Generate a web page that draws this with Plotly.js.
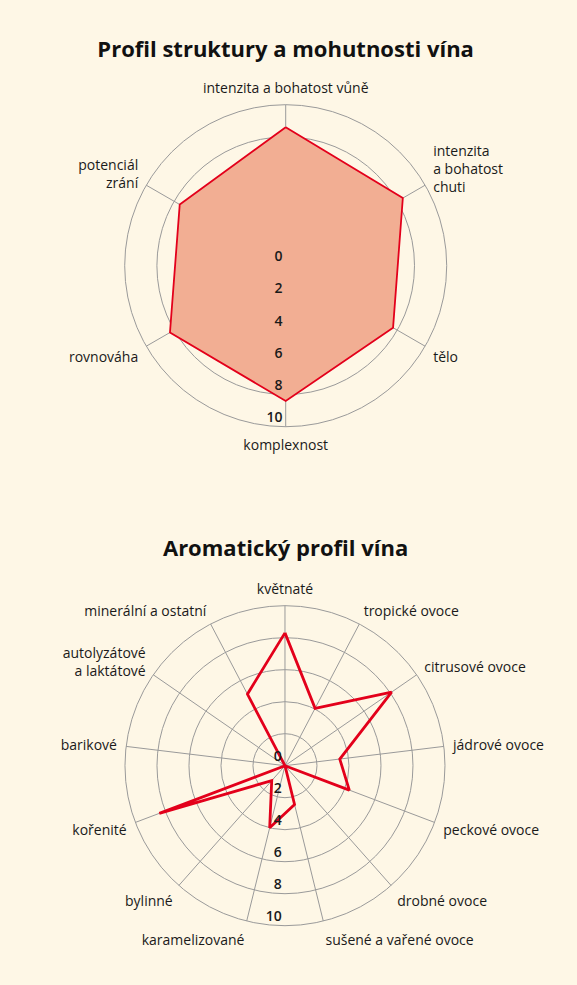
<!DOCTYPE html>
<html>
<head>
<meta charset="utf-8">
<script src="https://cdn.plot.ly/plotly-3.0.1.min.js"></script>
<style>
  body { margin: 0; background: #fef7e6; }
  .chart { width: 577px; }
</style>
</head>
<body>
<div id="graph1" class="chart" style="height:492px"></div>
<div id="graph2" class="chart" style="height:493px"></div>
<script>
// structure profile
var structLabels = ['intenzita a bohatost vůně', 'intenzita<br>a bohatost<br>chuti', 'tělo',
  'komplexnost', 'rovnováha', 'potenciál<br>zrání']
var structValues = [8.6, 8.4, 7.7, 8.4, 8.3, 7.6]

// aroma profile
var aromaLabels = ['květnaté', 'tropické ovoce', 'citrusové ovoce', 'jádrové ovoce', 'peckové ovoce',
  'drobné ovoce', 'sušené a vařené ovoce', 'karamelizované', 'bylinné', 'kořenité', 'barikové',
  'autolyzátové<br>a laktátové', 'minerální a ostatní']
var aromaValues = [8.3, 4.05, 8.1, 3.45, 4.3, 0, 2.5, 4.0, 1.25, 8.4, 0, 0, 5.05]

var radialTicks = [0, 2, 4, 6, 8, 10]
// blank second line lifts each number a little above its ring
var radialText = radialTicks.map(function (v) { return v + '<br>\u00a0' })

var bg = '#fef7e6'
var gridCol = '#9a9a9a'
var red = '#e3001b'
var font = 'Open Sans, sans-serif'

function closeLoop (arr) { return arr.concat([arr[0]]) }

function polarLayout (domX, domY) {
  return {
    bgcolor: bg,
    domain: { x: domX, y: domY },
    radialaxis: {
      range: [0, 10],
      tickvals: radialTicks,
      ticktext: radialText,
      angle: 270,
      tickangle: -90,
      showline: false,
      ticks: '',
      gridcolor: gridCol,
      gridwidth: 1,
      tickfont: { family: font, size: 14, color: '#1a1a1a', weight: 600 }
    },
    angularaxis: {
      rotation: 90,
      direction: 'clockwise',
      showline: true,
      linecolor: gridCol,
      linewidth: 1,
      gridcolor: gridCol,
      gridwidth: 1,
      ticks: 'outside',
      ticklen: 6,
      tickcolor: 'rgba(0,0,0,0)',
      tickfont: { family: font, size: 14, color: '#1a1a1a' }
    }
  }
}

Plotly.newPlot('graph1', [{
  type: 'scatterpolar',
  r: closeLoop(structValues),
  theta: closeLoop(structLabels),
  mode: 'lines',
  fill: 'toself',
  fillcolor: '#f2ae93',
  line: { color: red, width: 1.8 },
  hoverinfo: 'skip'
}], {
  width: 577,
  height: 492,
  paper_bgcolor: bg,
  margin: { l: 0, r: 0, t: 0, b: 0 },
  showlegend: false,
  title: {
    text: '<b>Profil struktury a mohutnosti vína</b>',
    font: { family: font, size: 22, color: '#111' },
    x: 0.495, xanchor: 'center',
    y: 0.9, yanchor: 'middle'
  },
  polar: polarLayout([0.2161, 0.7742], [0.1327, 0.7872])
}, { displayModeBar: false, staticPlot: true })

Plotly.newPlot('graph2', [{
  type: 'scatterpolar',
  r: closeLoop(aromaValues),
  theta: closeLoop(aromaLabels),
  mode: 'lines',
  line: { color: red, width: 2.8 },
  hoverinfo: 'skip'
}], {
  width: 577,
  height: 493,
  paper_bgcolor: bg,
  margin: { l: 0, r: 0, t: 0, b: 0 },
  showlegend: false,
  title: {
    text: '<b>Aromatický profil vína</b>',
    font: { family: font, size: 22, color: '#111' },
    x: 0.495, xanchor: 'center',
    y: 0.886, yanchor: 'middle'
  },
  polar: polarLayout([0.2166, 0.7712], [0.1203, 0.7694])
}, { displayModeBar: false, staticPlot: true })
</script>
</body>
</html>
